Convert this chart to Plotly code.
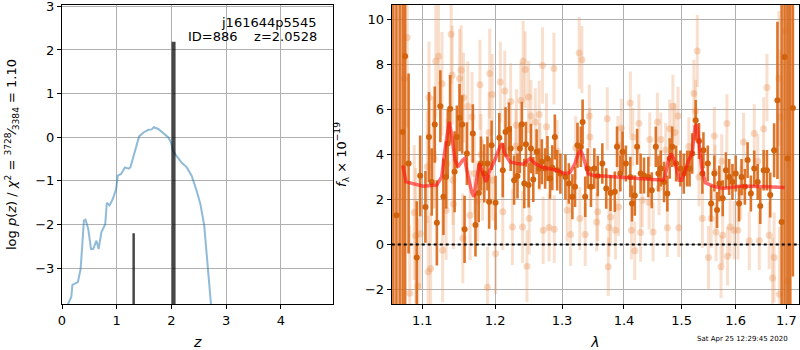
import math
import plotly.graph_objects as go

# ---------------- left panel: redshift PDF ----------------
pz_z = [0.08, 0.11, 0.17, 0.19, 0.29, 0.34, 0.37, 0.40, 0.43, 0.48, 0.53, 0.57, 0.63, 0.67,
        0.72, 0.79, 0.82, 0.87, 0.93, 0.99, 1.02, 1.08, 1.15, 1.22, 1.25, 1.33, 1.41, 1.49,
        1.58, 1.64, 1.68, 1.76, 1.85, 1.94, 1.99, 2.03, 2.09, 2.18, 2.28, 2.37, 2.46, 2.53,
        2.60, 2.67, 2.73, 2.77]
pz_logp = [-4.2, -3.82, -3.66, -3.38, -3.32, -3.02, -2.48, -1.91, -1.89, -2.10, -2.56, -2.56,
           -2.37, -2.56, -2.18, -1.99, -1.50, -1.56, -1.41, -1.18, -0.88, -0.84, -0.69, -0.72,
           -0.69, -0.31, 0.02, 0.11, 0.17, 0.18, 0.23, 0.19, 0.09, 0.00, -0.11, -0.31, -0.42,
           -0.57, -0.69, -0.88, -1.22, -1.53, -2.02, -2.94, -3.82, -4.5]
peak_z = [1.31, 2.04]
peak_top = [-2.20, 2.19]
peak_width = [2.5, 4]

z_ticks = [0, 1, 2, 3, 4]
logp_ticks = [-3, -2, -1, 0, 1, 2, 3]

# ---------------- right panel: spectrum ----------------
lam_dark = [1.0626, 1.0665, 1.0706, 1.0744, 1.0776, 1.0821, 1.0927, 1.0972, 1.1041, 1.1088,
            1.1124, 1.1165, 1.1193, 1.1240, 1.1281, 1.1317, 1.1340, 1.1372, 1.1433, 1.1464,
            1.1501, 1.1537, 1.1570, 1.1602, 1.1685, 1.1722, 1.1767, 1.1799, 1.1846, 1.1891,
            1.1915, 1.1950, 1.2007, 1.2061, 1.2111, 1.2151, 1.2201, 1.2226, 1.2276, 1.2326,
            1.2361, 1.2391, 1.2426, 1.2451, 1.2491, 1.2526, 1.2561, 1.2611, 1.2650, 1.2690,
            1.2740, 1.2776, 1.2815, 1.2850, 1.2889, 1.2925, 1.2975, 1.3053, 1.3107, 1.3162,
            1.3204, 1.3243, 1.3296, 1.3324, 1.3366, 1.3405, 1.3458, 1.3512, 1.3567, 1.3642,
            1.3706, 1.3777, 1.3847, 1.3884, 1.3939, 1.3976, 1.4031, 1.4107, 1.4135, 1.4182,
            1.4222, 1.4281, 1.4339, 1.4414, 1.4473, 1.4543, 1.4588, 1.4630, 1.4687, 1.4745,
            1.4786, 1.4831, 1.4901, 1.4977, 1.5037, 1.5098, 1.5142, 1.5190, 1.5253, 1.5314,
            1.5376, 1.5395, 1.5476, 1.5537, 1.5598, 1.5648, 1.5691, 1.5754, 1.5815, 1.5876,
            1.5939, 1.6001, 1.6065, 1.6113, 1.6177, 1.6230, 1.6294, 1.6360, 1.6427, 1.6478,
            1.6545, 1.6610, 1.6675, 1.6753, 1.6820, 1.6904, 1.6963, 1.7027, 1.7080, 1.7133]
flux_dark = [12.0, 1.30, 14.0, 5.00, 8.37, 3.60, -0.58, 3.05, 1.67, 4.78,
             2.78, 5.33, 0.96, 6.15, 2.12, 3.00, 4.49, 6.04, 3.23, 4.78,
             5.64, 5.33, 0.67, 4.04, 4.93, 0.86, 2.29, 3.60, 3.16, 3.60,
             1.90, 4.41, 1.85, 4.75, 3.30, 5.00, 5.11, 4.27, 2.86, 3.04,
             4.27, 5.35, 2.71, 4.46, 2.64, 4.27, 2.89, 4.12, 3.38, 3.68,
             3.38, 3.82, 2.93, 3.41, 4.78, 3.30, 3.15, 3.00, 2.71, 2.12,
             2.56, 4.41, 4.34, 5.45, 2.12, 3.38, 2.56, 3.38, 3.04, 3.60,
             2.49, 2.29, 2.34, 4.34, 3.15, 4.12, 3.60, 3.00, 1.82, 2.18,
             4.34, 3.15, 3.07, 3.00, 2.41, 4.34, 3.15, 3.38, 2.78, 2.27,
             3.82, 4.34, 3.60, 3.38, 3.15, 3.38, 3.38, 4.04, 5.52, 4.60,
             3.15, 4.19, 3.60, 1.82, 3.15, 1.53, 2.71, 2.05, 3.30, 3.00,
             2.78, 3.15, 1.82, 3.00, 2.56, 3.75, 2.27, 3.38, 2.78, 1.71,
             3.30, 3.30, 2.20, 4.19, 6.41, 1.00, 8.34, 3.82, 14.0, 6.07]
err_dark = [20, 16, 20, 14, 12, 4.0, 2.5, 1.8, 1.6, 2.0,
            1.5, 1.7, 1.9, 1.6, 1.7, 1.4, 1.5, 1.5, 1.8, 1.4,
            1.5, 1.3, 1.5, 1.4, 1.3, 1.4, 1.3, 1.2, 1.3, 1.2,
            1.2, 1.1, 1.2, 1.1, 1.2, 1.1, 1.2, 1.0, 1.1, 1.0,
            1.1, 1.0, 1.1, 1.0, 1.0, 1.1, 1.0, 1.0, 0.9, 1.0,
            0.9, 1.0, 0.9, 1.0, 1.0, 0.9, 0.9, 1.0, 0.9, 1.0,
            0.9, 1.0, 0.9, 1.0, 0.9, 0.9, 0.9, 0.9, 0.9, 0.9,
            0.9, 0.8, 0.9, 0.9, 0.8, 0.9, 0.8, 0.9, 0.8, 0.9,
            0.8, 0.9, 0.8, 0.9, 0.8, 0.9, 0.8, 0.8, 0.9, 0.8,
            0.9, 0.9, 0.8, 0.8, 0.9, 0.8, 0.8, 0.9, 0.9, 0.8,
            0.9, 0.8, 0.8, 0.8, 0.8, 0.8, 0.8, 0.8, 0.8, 0.8,
            0.8, 0.8, 0.8, 0.8, 0.8, 0.8, 0.8, 0.8, 0.8, 0.8,
            0.9, 0.9, 1.0, 1.2, 3.5, 10, 14, 15, 20, 7.5]

lam_light = [1.0766, 1.0803, 1.0835, 1.0895, 1.0913, 1.0941, 1.0972, 1.1065, 1.1078, 1.1088,
             1.1110, 1.1143, 1.1157, 1.1179, 1.1216, 1.1262, 1.1270, 1.1317, 1.1330, 1.1386,
             1.1400, 1.1410, 1.1419, 1.1501, 1.1523, 1.1546, 1.1556, 1.1615, 1.1647, 1.1674,
             1.1708, 1.1753, 1.1785, 1.1799, 1.1822, 1.1891, 1.1915, 1.1923, 1.1959, 1.1965,
             1.2007, 1.2076, 1.2111, 1.2140, 1.2226, 1.2251, 1.2301, 1.2311, 1.2376, 1.2401,
             1.2410, 1.2440, 1.2466, 1.2491, 1.2500, 1.2526, 1.2591, 1.2650, 1.2660, 1.2701,
             1.2710, 1.2761, 1.2800, 1.2875, 1.2880, 1.2925, 1.3081, 1.3134, 1.3215, 1.3269,
             1.3280, 1.3313, 1.3366, 1.3431, 1.3440, 1.3550, 1.3567, 1.3723, 1.3739, 1.3750,
             1.3777, 1.3858, 1.3900, 1.3911, 1.3955, 1.3964, 1.4107, 1.4125, 1.4148, 1.4182,
             1.4252, 1.4281, 1.4309, 1.4426, 1.4438, 1.4496, 1.4571, 1.4600, 1.4630, 1.4716,
             1.4745, 1.4786, 1.4843, 1.4878, 1.4936, 1.4948, 1.5129, 1.5221, 1.5253, 1.5282,
             1.5314, 1.5376, 1.5488, 1.5537, 1.5598, 1.5610, 1.5629, 1.5722, 1.5735, 1.5754,
             1.5834, 1.5846, 1.5895, 1.5969, 1.6044, 1.6100, 1.6152, 1.6262, 1.6360, 1.6427,
             1.6458, 1.6545, 1.6610, 1.6655, 1.6721, 1.6753, 1.6851, 1.6860, 1.6871, 1.6983,
             1.7016]
flux_light = [7.38, 9.20, -2.17, 1.42, 0.39, -1.85, 0.47, 3.45, -1.22, 6.53,
              -1.07, 4.08, 3.82, 8.15, 8.37, 7.15, -0.26, 1.52, 3.60, 9.35,
              7.53, 2.86, 1.80, 7.38, 7.75, 0.27, 6.53, 6.15, 1.30, 5.67,
              3.15, 1.93, 7.10, 4.00, 2.86, -1.90, 4.98, 7.60, 6.67, 2.86,
              -0.41, 7.22, 1.45, 6.82, 6.36, 0.78, 4.38, 5.30, 6.40, 0.78,
              8.15, 7.78, -0.97, 6.56, 1.15, 5.71, 5.45, 5.78, 3.90, 7.96,
              0.63, 5.23, 0.75, 7.82, 0.68, 4.15, 1.52, 0.44, 4.30, 8.52,
              1.15, 8.22, 0.44, 5.71, 4.78, 1.00, 1.45, 5.59, -0.99, 0.75,
              1.22, 0.63, 4.41, 1.67, 5.18, 4.04, 6.29, 0.63, 4.78, -0.28,
              5.38, 0.53, 1.97, 1.86, 4.67, 0.55, 5.45, 2.50, 4.67, 4.20,
              0.74, 5.15, 6.15, 4.98, 5.71, 0.74, 4.36, 6.71, 5.93, 8.60,
              3.00, 1.15, -0.58, 1.15, 4.82, 3.23, 0.55, -0.99, 3.70, 0.41,
              5.38, -0.53, 0.78, 0.63, 0.63, 2.30, 4.56, 0.16, 4.93, 3.70,
              0.16, 5.15, 6.98, 0.41, -1.49, -0.58, 7.38, -2.22, 5.67, 9.50,
              -1.64]
err_light = [4.0, 4.0, 3.0, 3.0, 3.0, 3.0, 2.5, 2.5, 2.5, 2.5,
             2.5, 2.5, 2.2, 2.5, 2.3, 2.3, 2.3, 2.2, 2.0, 2.2,
             2.2, 2.0, 2.0, 2.2, 2.0, 2.0, 2.0, 2.0, 2.0, 2.0,
             1.8, 1.8, 2.0, 1.8, 1.8, 1.8, 1.8, 2.0, 1.8, 1.8,
             1.8, 1.8, 1.7, 1.8, 1.7, 1.7, 1.6, 1.6, 1.7, 1.6,
             1.8, 1.7, 1.6, 1.6, 1.6, 1.6, 1.5, 1.5, 1.5, 1.7,
             1.5, 1.5, 1.5, 1.6, 1.5, 1.4, 1.4, 1.4, 1.4, 1.6,
             1.4, 1.5, 1.4, 1.4, 1.3, 1.3, 1.3, 1.4, 1.3, 1.3,
             1.3, 1.3, 1.3, 1.3, 1.3, 1.2, 1.4, 1.3, 1.3, 1.3,
             1.3, 1.3, 1.2, 1.2, 1.2, 1.3, 1.3, 1.2, 1.2, 1.2,
             1.3, 1.3, 1.4, 1.3, 1.3, 1.3, 1.3, 1.5, 1.4, 1.6,
             1.3, 1.3, 1.4, 1.3, 1.3, 1.2, 1.3, 1.4, 1.2, 1.3,
             1.3, 1.3, 1.3, 1.3, 1.3, 1.2, 1.3, 1.3, 1.3, 1.2,
             1.3, 1.4, 1.5, 1.5, 1.8, 2.0, 3.0, 3.0, 3.0, 4.0,
             4.0]

lam_model = [1.0745, 1.0788, 1.1010, 1.1191, 1.1258, 1.1301, 1.1360, 1.1390, 1.1438, 1.1480,
             1.1543, 1.1570, 1.1621, 1.1669, 1.1700, 1.1735, 1.1775, 1.1810, 1.1869, 1.1926,
             1.1997, 1.2069, 1.2107, 1.2140, 1.2217, 1.2316, 1.2412, 1.2512, 1.2587, 1.2713,
             1.2916, 1.3046, 1.3124, 1.3203, 1.3254, 1.3293, 1.3334, 1.3413, 1.3492, 1.3711,
             1.4000, 1.4324, 1.4670, 1.4700, 1.4758, 1.4807, 1.4860, 1.4930, 1.4955, 1.5000,
             1.5059, 1.5125, 1.5190, 1.5240, 1.5276, 1.5310, 1.5362, 1.5430, 1.5574, 1.5761,
             1.5860, 1.6080, 1.6334, 1.6532, 1.6731, 1.6966]
flux_model = [3.52, 2.78, 2.59, 2.64, 3.00, 4.19, 5.45, 4.93, 3.75, 3.45,
              3.75, 3.82, 3.00, 2.34, 2.12, 2.86, 3.60, 3.30, 2.78, 3.30,
              3.75, 4.34, 4.49, 4.04, 3.67, 3.60, 3.57, 3.82, 3.60, 3.42,
              3.30, 3.15, 3.20, 3.60, 4.04, 4.19, 3.90, 3.15, 3.07, 3.03,
              2.97, 2.90, 2.86, 3.00, 3.67, 4.04, 3.82, 3.15, 2.86, 2.86,
              3.30, 3.75, 4.04, 5.23, 5.34, 4.63, 3.45, 2.74, 2.59, 2.49,
              2.53, 2.59, 2.59, 2.56, 2.56, 2.53]

lam_ticks = [1.1, 1.2, 1.3, 1.4, 1.5, 1.6, 1.7]
flux_ticks = [-2, 0, 2, 4, 6, 8, 10]

# ---------------- figure ----------------
FONT = "DejaVu Sans"
GRID = "#b0b0b0"
fig = go.Figure()

fig.add_trace(go.Scatter(x=pz_z, y=pz_logp, mode="lines", xaxis="x", yaxis="y",
                         line=dict(color="rgba(31,119,180,0.5)", width=2), showlegend=False,
                         hoverinfo="skip"))
for zz, top, w in zip(peak_z, peak_top, peak_width):
    fig.add_trace(go.Scatter(x=[zz, zz], y=[-6, top], mode="lines", xaxis="x", yaxis="y",
                             line=dict(color="rgba(0,0,0,0.72)", width=w), showlegend=False,
                             hoverinfo="skip"))

fig.add_trace(go.Scatter(x=lam_light, y=flux_light, mode="markers", xaxis="x2", yaxis="y2",
                         marker=dict(color="rgba(230,140,75,0.33)", size=7),
                         error_y=dict(type="data", array=err_light, visible=True,
                                      color="rgba(236,150,90,0.3)", thickness=3, width=0),
                         showlegend=False, hoverinfo="skip"))
fig.add_trace(go.Scatter(x=lam_dark, y=flux_dark, mode="markers", xaxis="x2", yaxis="y2",
                         marker=dict(color="#d2620c", size=6),
                         error_y=dict(type="data", array=err_dark, visible=True,
                                      color="rgba(218,105,25,0.92)", thickness=2.6, width=0),
                         showlegend=False, hoverinfo="skip"))
fig.add_trace(go.Scatter(x=lam_model, y=flux_model, mode="lines", xaxis="x2", yaxis="y2",
                         line=dict(color="rgba(255,20,20,0.62)", width=3.5),
                         showlegend=False, hoverinfo="skip"))

fig.add_shape(type="line", xref="x2 domain", yref="y2", x0=0, x1=1, y0=0, y1=0,
              line=dict(color="black", width=2, dash="dot"), layer="above")

axis_common = dict(showgrid=True, gridcolor=GRID, gridwidth=1, showline=True, mirror=True,
                   linecolor="black", linewidth=1, ticks="outside", ticklen=4,
                   tickcolor="black", zeroline=False, automargin=False,
                   ticklabeloverflow="allow",
                   tickfont=dict(family=FONT, size=13, color="black"))

fig.update_layout(
    width=800, height=350,
    margin=dict(l=62, r=1, t=5, b=46, autoexpand=False),
    paper_bgcolor="white", plot_bgcolor="white",
    font=dict(family=FONT, color="black"),
    xaxis=dict(domain=[0, 0.3681], range=[0, 4.96], tickvals=z_ticks, anchor="y",
               title=dict(text="<i>z</i>", font=dict(size=14)), **axis_common),
    yaxis=dict(domain=[0, 1], range=[-3.82, 3.03], tickvals=logp_ticks, anchor="x",
               title=dict(text="log <i>p</i>(<i>z</i>) / <i>χ</i><sup>2</sup> = "
                               "<sup>3728</sup>⁄<sub>3384</sub> = 1.10",
                          font=dict(size=13)),
               **axis_common),
    xaxis2=dict(domain=[0.4474, 1], type="log",
                range=[math.log10(1.0605), math.log10(1.7259)],
                tickvals=lam_ticks, ticktext=[f"{v:.1f}" for v in lam_ticks], anchor="y2",
                title=dict(text="<i>λ</i>", font=dict(size=14)), **axis_common),
    yaxis2=dict(domain=[0, 1], range=[-2.65, 10.65], tickvals=flux_ticks, anchor="x2",
                title=dict(text="<i>f</i><sub>λ</sub> × 10<sup>−19</sup>",
                           font=dict(size=13)),
                **axis_common),
    annotations=[
        dict(text="j161644p5545", xref="paper", yref="paper", x=0.3487, y=0.943,
             xanchor="right", yanchor="middle", showarrow=False,
             font=dict(family=FONT, size=13)),
        dict(text="ID=886\u00a0\u00a0\u00a0\u00a0z=2.0528", xref="paper", yref="paper",
             x=0.3487, y=0.896, xanchor="right", yanchor="middle", showarrow=False,
             font=dict(family=FONT, size=13)),
        dict(text="Sat Apr 25 12:29:45 2020", xref="paper", yref="paper", x=0.924, y=-0.117,
             xanchor="center", yanchor="middle", showarrow=False,
             font=dict(family=FONT, size=7)),
    ],
)

fig.write_html("out.html", config={"displayModeBar": False},
               post_script="document.body.style.margin='0';document.body.style.overflow='hidden';")
